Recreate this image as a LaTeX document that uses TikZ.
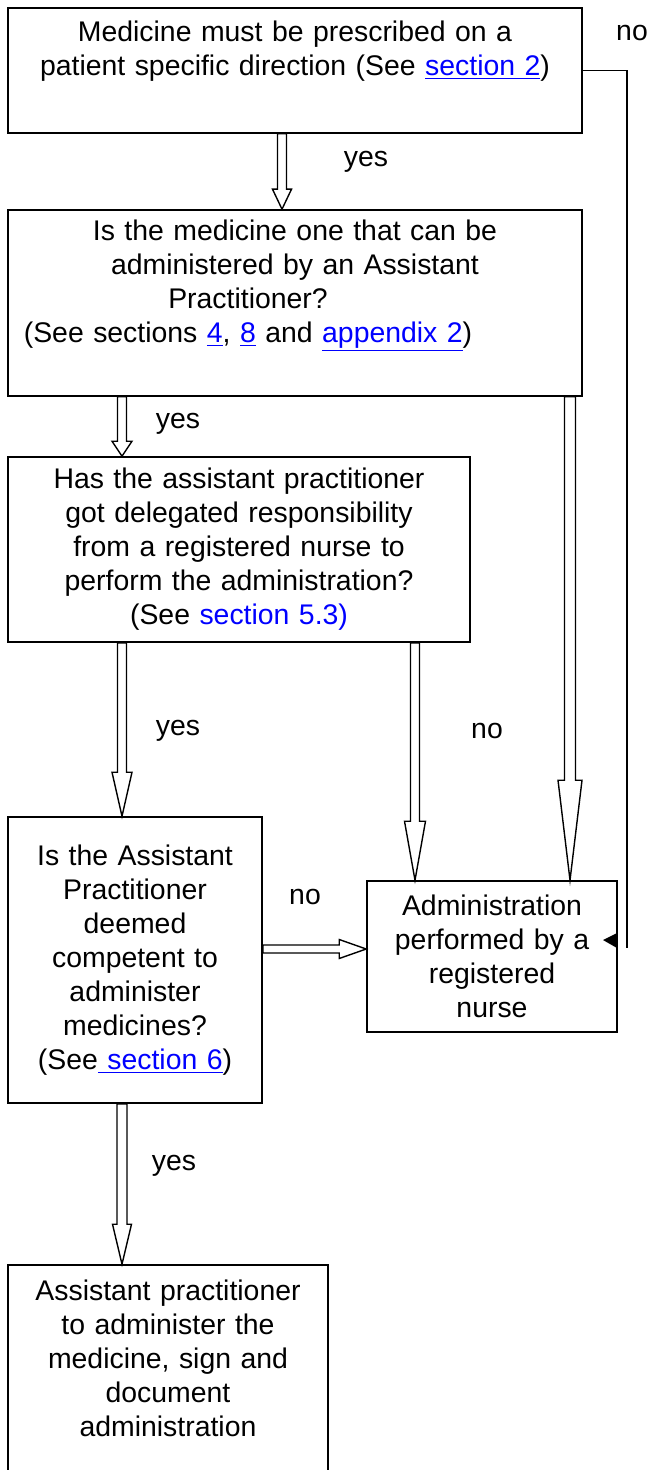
\documentclass[tikz,border=0pt]{standalone}
\usepackage{fontspec}
\setmainfont{Liberation Sans}
\definecolor{linkblue}{RGB}{0,0,255}
\newcommand{\lnk}[1]{\textcolor{linkblue}{\underline{#1}}}
\tikzstyle{box}=[draw, line width=0.8pt, fill=white, align=center, inner sep=0pt]
\tikzstyle{lbl}=[inner sep=0pt]
\tikzstyle{hollow}=[draw, line width=0.7pt, fill=white]
\tikzset{
  downblock/.style n args={3}{to path={
    ([xshift=-#1]\tikztostart) -- ([xshift=-#1,yshift=#3]\tikztotarget)
    -- ([xshift=-#2,yshift=#3]\tikztotarget) -- (\tikztotarget)
    -- ([xshift=#2,yshift=#3]\tikztotarget) -- ([xshift=#1,yshift=#3]\tikztotarget)
    -- ([xshift=#1]\tikztostart) -- cycle}},
  rightblock/.style n args={3}{to path={
    ([yshift=#1]\tikztostart) -- ([xshift=-#3,yshift=#1]\tikztotarget)
    -- ([xshift=-#3,yshift=#2]\tikztotarget) -- (\tikztotarget)
    -- ([xshift=-#3,yshift=-#2]\tikztotarget) -- ([xshift=-#3,yshift=-#1]\tikztotarget)
    -- ([yshift=-#1]\tikztostart) -- cycle}}
}

\begin{document}
\begin{tikzpicture}[x=0.5pt, y=-0.5pt, every node/.style={font=\fontsize{14.2}{17}\selectfont}]
	\useasboundingbox (0,0) rectangle (648,1470);
	\clip (0,0) rectangle (648,1470);
	\begin{scope}
		\node (med) at (295, 70.5)[box, text width=287pt, minimum height=62.5pt]
			{Medicine must be prescribed on a\\ patient specific direction (See \lnk{section 2})\\ \strut};
		\node (admin) at (295, 303)[box, text width=287pt, minimum height=93pt]
			{Is the medicine one that can be\\ administered by an Assistant\\ Practitioner?\rule{47pt}{0pt}\\ (See sections \lnk{4}, \lnk{8} and \lnk{appendix 2})\rule{47pt}{0pt}\\ \strut};
		\node (deleg) at (239, 549.5)[box, text width=231pt, minimum height=92.5pt]
			{Has the assistant practitioner\\ got delegated responsibility\\ from a registered nurse to\\ perform the administration?\\ (See \textcolor{linkblue}{section 5.3)}};
		\node (compet) at (135, 960)[box, text width=127pt, minimum height=143pt]
			{Is the Assistant\\ Practitioner\\ deemed\\ competent to\\ administer\\ medicines?\\ (See\lnk{ section 6})};
		\node (nurse) at (492, 956.5)[box, text width=125pt, minimum height=75.5pt]
			{Administration\\ performed by a\\ registered\\ nurse};
		\node (give) at (168, 1380)[box, text width=160pt, minimum height=115pt]
			{Assistant practitioner\\ to administer the\\ medicine, sign and\\ document\\ administration\\ \strut};
	\end{scope}
	\begin{scope}
		\node (no1) at (632, 33)[lbl] {no};
		\node (yes1) at (366, 162)[lbl] {yes};
		\node (yes2) at (178, 424)[lbl] {yes};
		\node (yes3) at (178, 731)[lbl] {yes};
		\node (no2) at (487, 731)[lbl] {no};
		\node (no3) at (305, 897)[lbl] {no};
		\node (yes4) at (174, 1166)[lbl] {yes};
		\coordinate (noend) at (627, 948);
	\end{scope}
	\begin{scope}
		\path [hollow, downblock={2.25pt}{4.75pt}{10pt}] (282,0 |- med.south) to (282,0 |- admin.north);
		\path [hollow, downblock={2.25pt}{5pt}{7.5pt}] (122,0 |- admin.south) to (122,0 |- deleg.north);
		\path [hollow, downblock={2.75pt}{6pt}{50pt}] (570,0 |- admin.south) to (570,0 |- nurse.north);
		\path [hollow, downblock={2.25pt}{5pt}{22pt}] (122,0 |- deleg.south) to (122,0 |- compet.north);
		\path [hollow, downblock={2.25pt}{5.25pt}{29.5pt}] (415,0 |- deleg.south) to (415,0 |- nurse.north);
		\path [hollow, rightblock={2pt}{4.75pt}{13.5pt}] (compet.east |- 0,949) to (nurse.west |- 0,949);
		\path [hollow, downblock={2.5pt}{4.75pt}{20pt}] (122,0 |- compet.south) to (122,0 |- give.north);
		\draw [line width=0.8pt] (med.east) -| (noend);
		\fill (603, 940) -- (617, 933) -- (617, 948) -- cycle;
	\end{scope}
\end{tikzpicture}
\end{document}
